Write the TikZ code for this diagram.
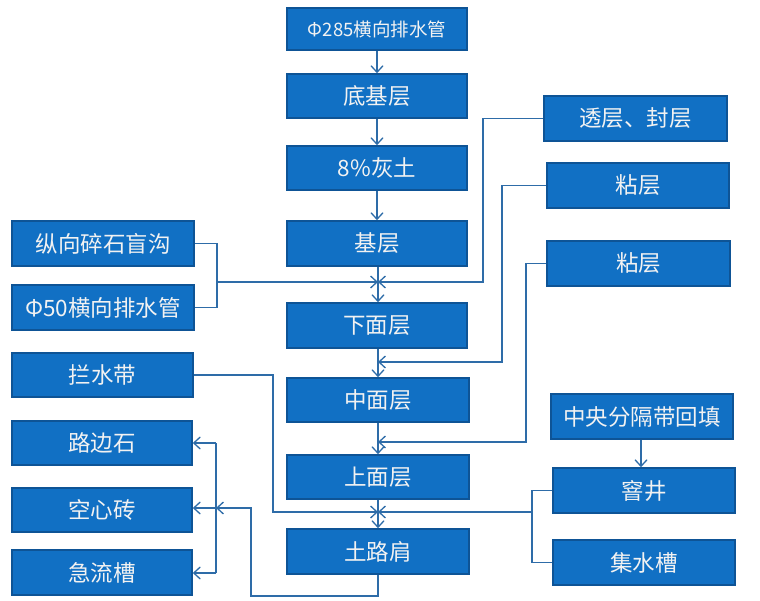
\documentclass[tikz,border=0pt]{standalone}
\usepackage{fontspec}
\newfontfamily\cjk{Noto Sans CJK SC}
\usetikzlibrary{arrows.meta}
\definecolor{boxfill}{RGB}{17,112,196}
\definecolor{boxline}{RGB}{14,84,150}
\definecolor{conn}{RGB}{46,108,168}
\definecolor{txt}{RGB}{242,242,242}
\tikzset{
  box/.style={rectangle, fill=boxfill, draw=boxline, line width=1.6pt, text=txt,
    font=\cjk\fontsize{22.5}{26}\selectfont, inner sep=0pt, minimum width=182pt, minimum height=45pt},
  conline/.style={draw=conn, line width=1.5pt},
  arr/.style={conline, -{Straight Barb[length=6.5pt,width=12pt,line width=1.3pt]}}
}
\begin{document}
\begin{tikzpicture}[x=1pt,y=-1pt]
\useasboundingbox[fill=white] (0,0) rectangle (760,601);
% center column
\node[box, minimum width=180pt, minimum height=42pt, font=\cjk\fontsize{18.5}{22}\selectfont] (p285) at (377,29) {Φ285横向排水管};
\node[box, minimum width=180pt, minimum height=44pt] (dijc) at (377,96) {底基层};
\node[box, minimum width=180pt, minimum height=44pt] (hui) at (377,168) {8\%灰土};
\node[box, minimum width=180pt] (jic) at (377,243.5) {基层};
\node[box, minimum width=180pt] (xia) at (377,325.5) {下面层};
\node[box, minimum height=44pt] (zhong) at (378,400) {中面层};
\node[box, minimum height=44pt] (shang) at (378,477) {上面层};
\node[box] (tlj) at (378,551.5) {土路肩};
% right column
\node[box, minimum width=183pt] (tou) at (635.5,118.5) {透层、封层};
\node[box] (zhan1) at (638,185.5) {粘层};
\node[box, minimum width=183pt] (zhan2) at (638.5,263.5) {粘层};
\node[box] (zyfg) at (642,416.5) {中央分隔带回填};
\node[box] (yj) at (644,490.5) {窨井};
\node[box] (jsc) at (644,562.5) {集水槽};
% left column
\node[box] (zx) at (103,243.5) {纵向碎石盲沟};
\node[box] (phi50) at (103,307.5) {Φ50横向排水管};
\node[box, minimum width=181pt, minimum height=44pt] (lsd) at (102.5,375) {拦水带};
\node[box, minimum width=180pt, minimum height=44pt] (lbs) at (102,443) {路边石};
\node[box, minimum width=180pt, minimum height=44pt] (kxz) at (102,510) {空心砖};
\node[box, minimum width=180pt] (jlc) at (102,572.5) {急流槽};
% coordinates
\coordinate (m1) at (378,282);
\coordinate (m2) at (378,362);
\coordinate (m3) at (378,442);
\coordinate (m4) at (378,512);
\coordinate (t1) at (216,443);
\coordinate (t2) at (216,508);
\coordinate (t3) at (216,573);
% center chain
\draw[arr] (p285.south) -- (p285.south |- dijc.north);
\draw[arr] (dijc.south) -- (dijc.south |- hui.north);
\draw[arr] (hui.south) -- (hui.south |- jic.north);
\draw[arr] (jic.south -| m1) -- (m1 |- xia.north);
\draw[arr] (xia.south -| m2) -- (m2 |- zhong.north);
\draw[arr] (zhong.south) -- (zhong.south |- shang.north);
\draw[arr] (shang.south) -- (shang.south |- tlj.north);
% left drainage merge
\draw[conline] (zx.east) -- (217,243.5) -- (217,307.5) -- (phi50.east);
\draw[arr] (217,282) -- (m1);
% right feeds
\draw[arr] (tou.west) -- (483,118.5) -- (483,282) -- (m1);
\draw[arr] (zhan1.west) -- (502,185.5) -- (502,362) -- (m2);
\draw[arr] (zhan2.west) -- (526,263.5) -- (526,442) -- (m3);
% 拦水带
\draw[arr] (lsd.east) -- (273,375) -- (273,512) -- (m4);
% median
\draw[arr] (zyfg.south -| 641,0) -- (641,0 |- yj.north);
\draw[conline] (yj.west) -- (532,490.5) -- (532,562.5) -- (jsc.west);
\draw[arr] (532,512) -- (m4);
% 土路肩 outflow
\draw[arr] (tlj.south) -- (378,596) -- (251,596) -- (251,508) -- (t2);
\draw[conline] (t1) -- (t3);
\draw[arr] (t1) -- (t1 -| lbs.east);
\draw[arr] (t2) -- (t2 -| kxz.east);
\draw[arr] (t3) -- (t3 -| jlc.east);
\end{tikzpicture}
\end{document}
